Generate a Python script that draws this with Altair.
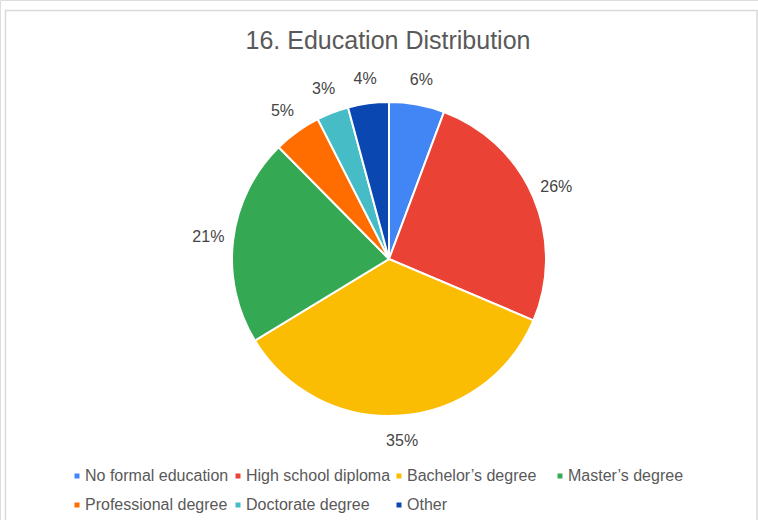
import altair as alt
import pandas as pd

title_text = "16. Education Distribution"
categories = ["No formal education", "High school diploma", "Bachelor\u2019s degree",
              "Master\u2019s degree", "Professional degree", "Doctorate degree", "Other"]
values = [5.7, 25.7, 34.9, 21.3, 4.9, 3.3, 4.2]
labels = ["6%", "26%", "35%", "21%", "5%", "3%", "4%"]
colors = ["#4285F4", "#EA4335", "#FBBC04", "#34A853", "#FF6D01", "#46BDC6", "#0B47B0"]

df = pd.DataFrame({
    "category": categories,
    "value": values,
    "label": labels,
    "order": list(range(len(categories))),
})

FONT = "Liberation Sans"
CX, CY = 389, 259

base = alt.Chart(df).encode(
    theta=alt.Theta("value:Q", stack=True),
    order=alt.Order("order:Q"),
    x=alt.value(CX),
    y=alt.value(CY),
)

pie = base.mark_arc(radius=157, stroke="white", strokeWidth=2).encode(
    color=alt.Color(
        "category:N",
        scale=alt.Scale(domain=categories, range=colors),
        legend=alt.Legend(
            title=None,
            orient="none",
            direction="horizontal",
            legendX=69,
            legendY=468,
            columns=4,
            gridAlign="all",
            columnPadding=0,
            rowPadding=13,
            symbolType="square",
            symbolSize=25,
            symbolStrokeWidth=0,
            labelOffset=0,
            labelFont=FONT,
            labelFontSize=16,
            labelColor="#595959",
            labelLimit=200,
        ),
    )
)

text = base.mark_text(radius=182, font=FONT, fontSize=16, color="#444444",
                      align="center", baseline="middle").encode(text="label:N")

title_df = pd.DataFrame({"t": [title_text]})
title = alt.Chart(title_df).mark_text(font=FONT, fontSize=25, color="#595959",
                                      align="center", baseline="middle").encode(
    text="t:N", x=alt.value(388), y=alt.value(41)
)

frame = alt.Chart(title_df).mark_rect(fill="transparent", stroke="#d9d9d9", strokeWidth=1.5).encode(
    x=alt.value(5.5), x2=alt.value(757), y=alt.value(10.5), y2=alt.value(540)
)

chart = alt.layer(frame, pie, text, title).properties(
    width=758, height=520, padding=0,
    autosize=alt.AutoSizeParams(type="none"),
).configure_view(stroke=None).configure(background="white")

chart.save("out.html", embed_options={"renderer": "svg", "actions": False})
